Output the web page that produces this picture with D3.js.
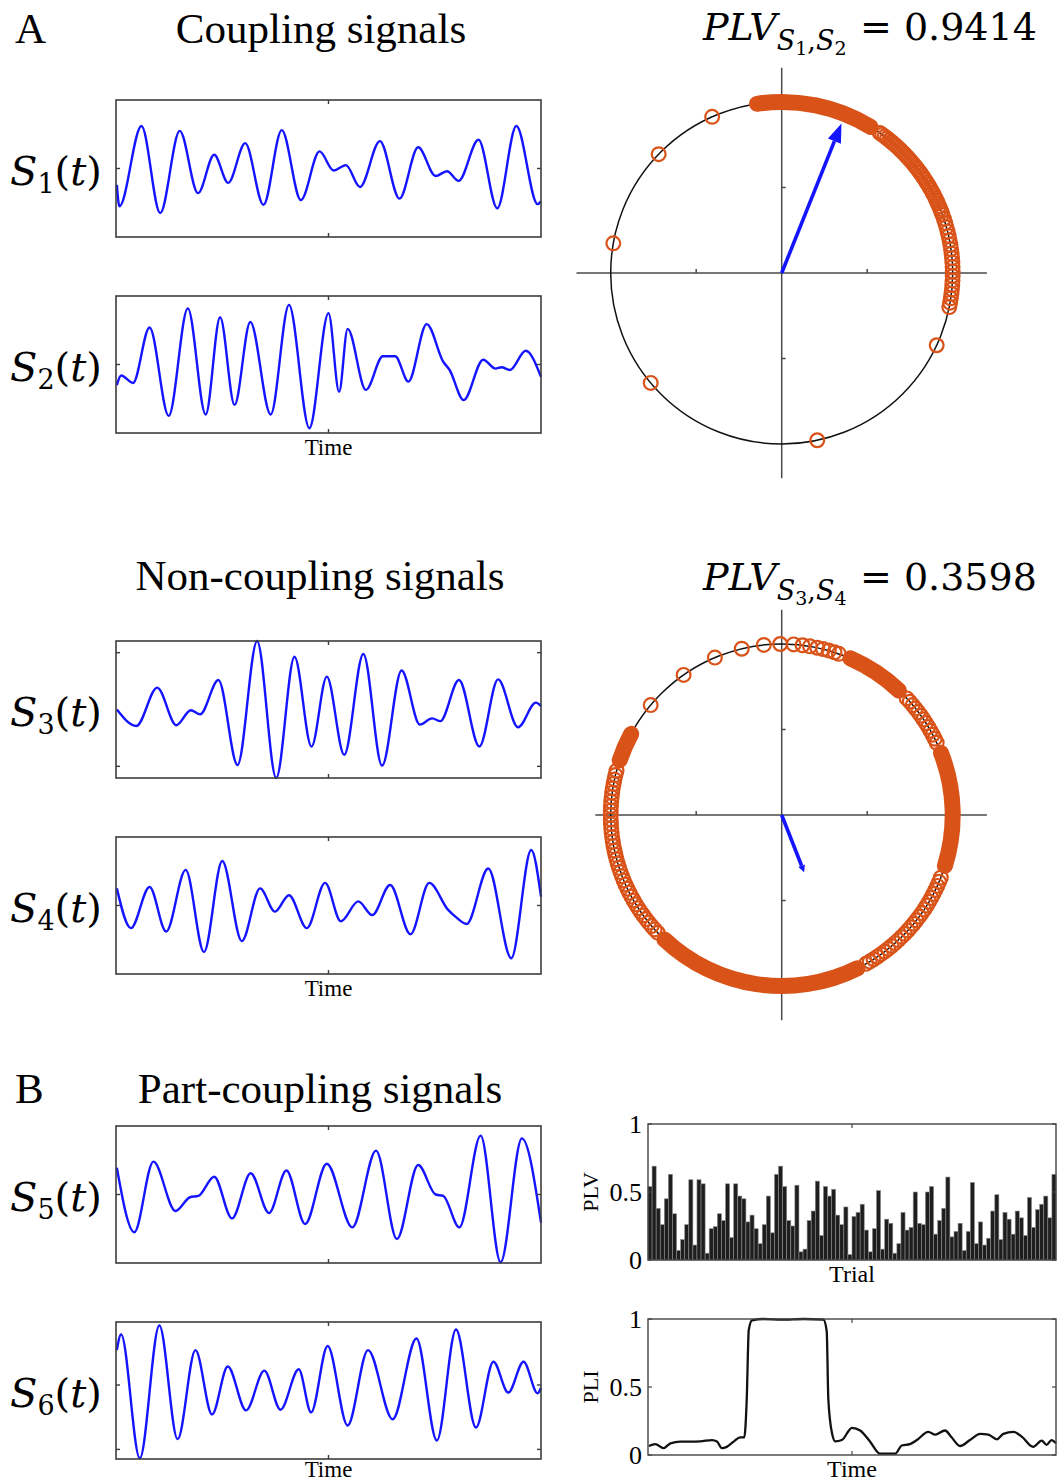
<!DOCTYPE html>
<html lang="en">
<head>
    <meta charset="UTF-8">
    <title>Phase coupling</title>
    <script src="https://cdn.jsdelivr.net/npm/d3@7"></script>
    <style>
        body { margin: 0; background: #fff; }
        svg { display: block; }
    </style>
</head>
<body>
<script>
    // waveforms: [time fraction, normalised amplitude] at peaks / troughs
    const s1 = [[0.002,-0.24],[0.008,-0.55],[0.060,0.62],[0.104,-0.65],[0.150,0.55],[0.193,-0.36],[0.231,0.20],[0.264,-0.21],
        [0.304,0.37],[0.347,-0.53],[0.390,0.56],[0.435,-0.46],[0.479,0.25],[0.512,-0.03],[0.541,0.05],[0.574,-0.27],
        [0.621,0.40],[0.667,-0.44],[0.711,0.31],[0.752,-0.11],[0.779,-0.04],[0.806,-0.18],[0.853,0.42],[0.897,-0.58],
        [0.942,0.62],[0.992,-0.52],[1.0,-0.48]];
    const s2 = [[0.002,-0.30],[0.012,-0.16],[0.040,-0.27],[0.079,0.54],[0.124,-0.75],[0.169,0.82],[0.211,-0.73],[0.245,0.69],
        [0.279,-0.59],[0.316,0.62],[0.364,-0.73],[0.407,0.87],[0.455,-0.93],[0.500,0.75],[0.525,-0.40],[0.545,0.52],
        [0.588,-0.37],[0.628,0.12],[0.657,0.12],[0.688,-0.25],[0.731,0.59],[0.770,0.04],[0.785,-0.08],[0.818,-0.52],
        [0.864,0.07],[0.893,-0.06],[0.907,-0.04],[0.927,-0.08],[0.964,0.20],[1.0,-0.18]];
    const s3 = [[0.002,0.0],[0.048,-0.24],[0.097,0.32],[0.142,-0.23],[0.176,-0.01],[0.198,-0.07],[0.241,0.43],[0.286,-0.81],
        [0.332,1.0],[0.377,-1.0],[0.420,0.77],[0.460,-0.54],[0.496,0.48],[0.537,-0.66],[0.582,0.81],[0.626,-0.82],
        [0.672,0.57],[0.715,-0.22],[0.744,-0.13],[0.763,-0.17],[0.807,0.43],[0.855,-0.54],[0.899,0.44],[0.946,-0.26],
        [0.988,0.10],[1.0,0.05]];
    const s4 = [[0.002,0.25],[0.035,-0.33],[0.079,0.27],[0.118,-0.38],[0.164,0.52],[0.207,-0.68],[0.250,0.65],[0.296,-0.52],
        [0.339,0.25],[0.374,-0.09],[0.407,0.15],[0.449,-0.33],[0.492,0.33],[0.529,-0.23],[0.570,0.06],[0.603,-0.14],
        [0.645,0.30],[0.693,-0.42],[0.737,0.33],[0.781,-0.06],[0.800,-0.17],[0.825,-0.27],[0.876,0.54],[0.930,-0.77],
        [0.977,0.81],[1.0,0.13]];
    const s5 = [[0.002,0.39],[0.043,-0.55],[0.088,0.48],[0.140,-0.24],[0.174,-0.04],[0.194,-0.02],[0.231,0.26],[0.273,-0.35],
        [0.317,0.31],[0.360,-0.27],[0.401,0.35],[0.445,-0.43],[0.496,0.45],[0.556,-0.48],[0.612,0.64],[0.661,-0.65],
        [0.711,0.43],[0.752,0.0],[0.770,-0.02],[0.808,-0.48],[0.858,0.86],[0.905,-0.99],[0.955,0.82],[1.0,-0.41]];
    const s6 = [[0.002,0.59],[0.012,0.82],[0.056,-0.99],[0.102,0.95],[0.145,-0.71],[0.187,0.59],[0.226,-0.35],[0.263,0.35],
        [0.306,-0.29],[0.349,0.29],[0.387,-0.28],[0.430,0.31],[0.459,-0.32],[0.498,0.65],[0.545,-0.51],[0.593,0.59],
        [0.651,-0.42],[0.707,0.76],[0.755,-0.73],[0.800,0.89],[0.847,-0.54],[0.888,0.42],[0.923,-0.03],[0.959,0.42],
        [0.992,-0.04],[1.0,0.04]];

    // phase differences (degrees) in the polar plots
    const denseA = [[56, 101]];
    const ringsA = [55,54,53,52,51,50,49,48,47,46,45,44,43,42,41,40,39,38,37,36,35,34,33,32,31,30,29,28,27,26,25,24,23,22,21,20,
        18.5,17,15.5,14,12.5,11,9.5,8,6.5,5,3.5,2,0.5,-1,-2.5,-4,-5.5,-7,-8.5,-10,-11.5];
    const sparseA = [114, 136, 170, 220, 282, 335];
    const plvA = 0.9414, phaseA = 68.2;

    const denseB = [[44, 69], [-20, 24], [-136, -61], [149, 164]];
    const ringsB = [140,125,113,103.5,96,90.5,86,83,80.5,78,76,74,72,70.5,
        43,41.5,40,38.5,37,35.5,34,32.5,31,29.5,28,26.5,25,
        -21.5,-23,-24.5,-26,-27.5,-29,-30.5,-32,-33.5,-35,-36.5,-38,-39.5,-41,-42.5,-44,-45.5,-47,-48.5,-50,
        -51.5,-53,-54.5,-56,-57.5,-59,-60.5,
        165,166.5,168,169.5,171,172.5,174,175.5,177,178.5,180,181.5,183,184.5,186,187.5,189,190.5,192,193.5,
        195,196.5,198,199.5,201,202.5,204,205.5,207,208.5,210,211.5,213,214.5,216,217.5,219,220.5,222,223.5];
    const plvB = 0.3598, phaseB = -68.6;

    // PLV per trial
    const plvTrials = [0.54,0.69,0.38,0.26,0.45,0.63,0.34,0.07,0.15,0.26,0.59,0.11,0.59,0.56,0.05,0.23,0.245,0.34,0.29,0.56,
        0.165,0.56,0.47,0.45,0.28,0.33,0.23,0.12,0.26,0.47,0.20,0.63,0.69,0.54,0.29,0.25,0.55,0.06,0.08,0.29,
        0.36,0.58,0.18,0.54,0.47,0.52,0.33,0.26,0.39,0.04,0.32,0.35,0.41,0.22,0.06,0.23,0.51,0.08,0.30,0.27,
        0.05,0.12,0.35,0.22,0.24,0.50,0.27,0.26,0.50,0.54,0.19,0.29,0.38,0.61,0.17,0.21,0.27,0.07,0.21,0.57,
        0.12,0.28,0.11,0.16,0.36,0.48,0.15,0.35,0.30,0.19,0.36,0.31,0.18,0.46,0.24,0.37,0.41,0.47,0.31,0.63];

    // PLI over time
    const pliT = [0.002,0.018,0.038,0.055,0.079,0.104,0.128,0.157,0.169,0.181,0.193,0.210,0.226,0.236,0.242,0.247,0.255,
        0.283,0.328,0.381,0.430,0.438,0.442,0.451,0.459,0.475,0.500,0.520,0.544,0.569,0.606,0.622,0.642,0.659,
        0.687,0.704,0.728,0.744,0.765,0.789,0.814,0.834,0.855,0.871,0.896,0.916,0.944,0.965,0.977,0.989,1.0];
    const pliV = [0.066,0.08,0.05,0.086,0.098,0.098,0.10,0.11,0.10,0.05,0.06,0.098,0.13,0.13,0.41,0.92,0.99,
        1.0,0.995,1.0,0.995,0.91,0.41,0.16,0.10,0.11,0.20,0.18,0.10,0.01,0.01,0.07,0.08,0.11,
        0.17,0.15,0.18,0.13,0.066,0.11,0.155,0.15,0.115,0.155,0.17,0.135,0.06,0.105,0.075,0.11,0.086];

    const serif = "Liberation Serif";
    const math = "DejaVu Serif";
    const orange = "#D95319";
    const blue = "#1414ff";

    const svg = d3.select("body").append("svg")
        .attr("width", 1059)
        .attr("height", 1483);

    function heading(x, y, str, anchor) {
        svg.append("text")
            .attr("x", x).attr("y", y)
            .attr("text-anchor", anchor)
            .attr("font-family", serif)
            .attr("font-size", 43)
            .text(str);
    }
    heading(15, 43, "A", "start");
    heading(321, 43, "Coupling signals", "middle");
    heading(320, 590, "Non-coupling signals", "middle");
    heading(15, 1103, "B", "start");
    heading(320, 1103, "Part-coupling signals", "middle");

    // ---------- signal panels ----------
    const sigLeft = 116, sigRight = 541, sigH = 137;

    function drawSignal(data, top, sub, ticks, timeY) {
        const x = d3.scaleLinear().domain([0, 1]).range([sigLeft, sigRight]);
        const y = d3.scaleLinear().domain([-1, 1]).range([top + sigH, top]);
        const g = svg.append("g");

        g.append("path")
            .datum(data)
            .attr("fill", "none")
            .attr("stroke", blue)
            .attr("stroke-width", 2.4)
            .attr("d", d3.line().x(d => x(d[0])).y(d => y(d[1])).curve(d3.curveMonotoneX));

        g.append("rect")
            .attr("x", sigLeft).attr("y", top)
            .attr("width", sigRight - sigLeft).attr("height", sigH)
            .attr("fill", "none").attr("stroke", "#3c3c3c").attr("stroke-width", 1.6);

        const tk = g.append("g").attr("stroke", "#3c3c3c").attr("stroke-width", 1.4);
        tk.append("line").attr("x1", x(0.5)).attr("x2", x(0.5)).attr("y1", top).attr("y2", top + 4);
        tk.append("line").attr("x1", x(0.5)).attr("x2", x(0.5)).attr("y1", top + sigH).attr("y2", top + sigH - 4);
        ticks.forEach(v => {
            tk.append("line").attr("x1", sigLeft).attr("x2", sigLeft + 4).attr("y1", y(v)).attr("y2", y(v));
            tk.append("line").attr("x1", sigRight).attr("x2", sigRight - 4).attr("y1", y(v)).attr("y2", y(v));
        });

        const lab = g.append("text")
            .attr("x", 10).attr("y", top + sigH / 2 + 16)
            .attr("font-family", math).attr("font-size", 40);
        lab.append("tspan").attr("font-style", "italic").text("S");
        lab.append("tspan").attr("font-size", 27).attr("dy", 8).text(sub);
        lab.append("tspan").attr("dy", -8).text("(");
        lab.append("tspan").attr("font-style", "italic").text("t");
        lab.append("tspan").text(")");

        if (timeY) {
            g.append("text")
                .attr("x", x(0.5)).attr("y", top + sigH + timeY)
                .attr("text-anchor", "middle")
                .attr("font-family", serif).attr("font-size", 23)
                .text("Time");
        }
    }

    drawSignal(s1, 100, "1", [0], 0);
    drawSignal(s2, 296, "2", [0], 22);
    drawSignal(s3, 641, "3", [0.83, -0.83], 0);
    drawSignal(s4, 837, "4", [0], 22);
    drawSignal(s5, 1126, "5", [0], 0);
    drawSignal(s6, 1322, "6", [0.08, -0.86], 18);

    // ---------- polar plots ----------
    const R = 171;

    function drawPolar(cx, cy, xMin, dense, rings, sparse, plv, phase, head, title, subs) {
        const px = d3.scaleLinear().domain([-1, 1]).range([cx - R, cx + R]);
        const py = d3.scaleLinear().domain([-1, 1]).range([cy + R, cy - R]);
        const g = svg.append("g");
        const rad = d => d * Math.PI / 180;

        const ax = g.append("g").attr("stroke", "#4a4a4a").attr("stroke-width", 1.5);
        ax.append("line").attr("x1", px(xMin)).attr("x2", px(1.2)).attr("y1", py(0)).attr("y2", py(0));
        ax.append("line").attr("x1", px(0)).attr("x2", px(0)).attr("y1", py(1.2)).attr("y2", py(-1.2));
        [-0.5, 0.5].forEach(v => {
            ax.append("line").attr("x1", px(v)).attr("x2", px(v)).attr("y1", py(0)).attr("y2", py(0) - 4);
            ax.append("line").attr("x1", px(0)).attr("x2", px(0) + 4).attr("y1", py(v)).attr("y2", py(v));
        });

        g.append("circle")
            .attr("cx", px(0)).attr("cy", py(0)).attr("r", px(1) - px(0))
            .attr("fill", "none").attr("stroke", "#111").attr("stroke-width", 1.5);

        const arc = d3.arc().innerRadius(R - 8).outerRadius(R + 8).cornerRadius(8);
        g.selectAll(".band").data(dense).join("path")
            .attr("transform", `translate(${px(0)},${py(0)})`)
            .attr("fill", orange)
            .attr("d", d => arc({ startAngle: Math.PI / 2 - rad(d[1]), endAngle: Math.PI / 2 - rad(d[0]) }));

        g.selectAll(".mk").data(rings.concat(sparse)).join("circle")
            .attr("cx", d => px(Math.cos(rad(d))))
            .attr("cy", d => py(Math.sin(rad(d))))
            .attr("r", 6.9)
            .attr("fill", "none")
            .attr("stroke", orange)
            .attr("stroke-width", 2.2);

        // mean phase vector
        const tx = px(plv * Math.cos(rad(phase))), ty = py(plv * Math.sin(rad(phase)));
        const ux = Math.cos(rad(phase)), uy = -Math.sin(rad(phase));
        const bx = tx - head[0] * ux, by = ty - head[0] * uy;
        g.append("line")
            .attr("x1", px(0)).attr("y1", py(0)).attr("x2", bx).attr("y2", by)
            .attr("stroke", blue).attr("stroke-width", 3.6);
        g.append("path")
            .attr("fill", blue)
            .attr("d", `M${tx},${ty}L${bx - head[1] * uy},${by + head[1] * ux}L${bx + head[1] * uy},${by - head[1] * ux}Z`);

        const t = g.append("text")
            .attr("x", 703).attr("y", title)
            .attr("font-family", math).attr("font-size", 38);
        t.append("tspan").attr("font-style", "italic").text("PLV");
        t.append("tspan").attr("font-style", "italic").attr("font-size", 27).attr("dy", 10).text("S");
        t.append("tspan").attr("font-size", 19).attr("dy", 5).text(subs[0]);
        t.append("tspan").attr("font-size", 27).attr("dy", -5).text(",");
        t.append("tspan").attr("font-style", "italic").attr("font-size", 27).text("S");
        t.append("tspan").attr("font-size", 19).attr("dy", 5).text(subs[1]);
        t.append("tspan").attr("dy", -15).attr("x", 860).text("= " + plv.toFixed(4));
    }

    drawPolar(781.7, 273, -1.2, denseA, ringsA, sparseA, plvA, phaseA, [19, 7], 40, ["1", "2"]);
    drawPolar(781.7, 815, -1.09, denseB, ringsB, [], plvB, phaseB, [7, 3.5], 590, ["3", "4"]);

    // ---------- PLV bars & PLI ----------
    const bLeft = 648, bRight = 1056;

    function frame(top, bottom, yLab, xLab) {
        const y = d3.scaleLinear().domain([0, 1]).range([bottom, top]);
        const g = svg.append("g");
        g.append("rect")
            .attr("x", bLeft).attr("y", top).attr("width", bRight - bLeft).attr("height", bottom - top)
            .attr("fill", "none").attr("stroke", "#444").attr("stroke-width", 1.4);
        const tk = g.append("g").attr("stroke", "#444").attr("stroke-width", 1.2);
        const mid = (bLeft + bRight) / 2;
        tk.append("line").attr("x1", mid).attr("x2", mid).attr("y1", top).attr("y2", top + 4);
        tk.append("line").attr("x1", mid).attr("x2", mid).attr("y1", bottom).attr("y2", bottom - 4);
        [0, 0.5, 1].forEach(v => {
            tk.append("line").attr("x1", bLeft).attr("x2", bLeft + 4).attr("y1", y(v)).attr("y2", y(v));
            tk.append("line").attr("x1", bRight).attr("x2", bRight - 4).attr("y1", y(v)).attr("y2", y(v));
            g.append("text")
                .attr("x", bLeft - 6).attr("y", y(v) + 9)
                .attr("text-anchor", "end")
                .attr("font-family", serif).attr("font-size", 26)
                .text(v);
        });
        g.append("text")
            .attr("transform", `translate(598,${(top + bottom) / 2}) rotate(-90)`)
            .attr("text-anchor", "middle")
            .attr("font-family", serif).attr("font-size", 22)
            .text(yLab);
        g.append("text")
            .attr("x", mid).attr("y", bottom + 22)
            .attr("text-anchor", "middle")
            .attr("font-family", serif).attr("font-size", 24)
            .text(xLab);
        return y;
    }

    const barTop = 1124, barBottom = 1260;
    const xb = d3.scaleBand().domain(d3.range(plvTrials.length)).range([bLeft, bRight]).padding(0);
    const yb = d3.scaleLinear().domain([0, 1]).range([barBottom, barTop]);
    svg.append("g").selectAll("rect").data(plvTrials).join("rect")
        .attr("x", (d, i) => xb(i))
        .attr("width", xb.bandwidth())
        .attr("y", d => yb(d))
        .attr("height", d => barBottom - yb(d))
        .attr("fill", "#1e1e1e")
        .attr("stroke", "#8c8c8c")
        .attr("stroke-width", 0.6);
    frame(barTop, barBottom, "PLV", "Trial");

    const pliTop = 1319, pliBottom = 1455;
    const xp = d3.scaleLinear().domain([0, 1]).range([bLeft, bRight]);
    const yp = d3.scaleLinear().domain([0, 1]).range([pliBottom, pliTop]);
    svg.append("path")
        .datum(d3.zip(pliT, pliV))
        .attr("fill", "none")
        .attr("stroke", "#111")
        .attr("stroke-width", 2.3)
        .attr("d", d3.line().x(d => xp(d[0])).y(d => yp(d[1])).curve(d3.curveMonotoneX));
    frame(pliTop, pliBottom, "PLI", "Time");
</script>
</body>
</html>
